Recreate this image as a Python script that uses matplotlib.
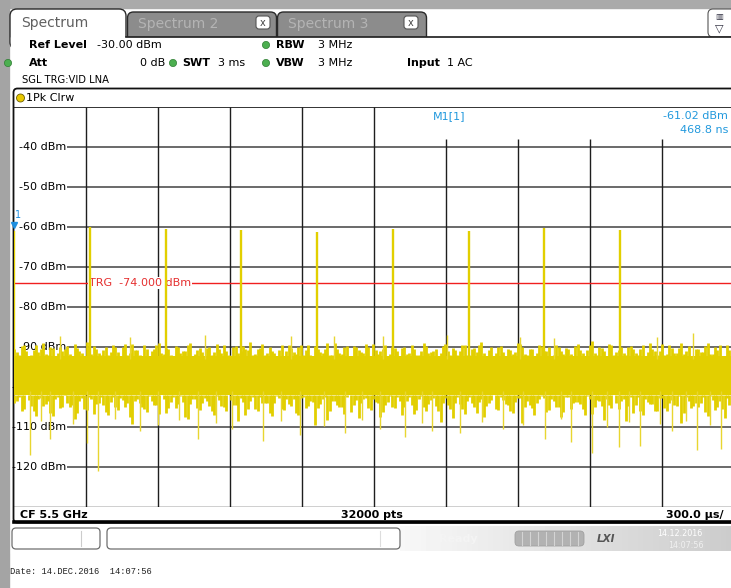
import numpy as np
import matplotlib.pyplot as plt
from matplotlib.patches import Rectangle, FancyBboxPatch, Circle

W, H = 731, 588

# zero span sweep: 10 div x 300 us, level -30 .. -130 dBm
t_div = 0.3
ref_level = -30.0
y_labels = [-40, -50, -60, -70, -80, -90, -100, -110, -120]
trg_level = -74.0
marker_t = 0.0004688
marker_db = -61.02

# pulses (ms, dBm)
peak_t = [0.0005, 0.317, 0.631, 0.946, 1.263, 1.578, 1.893, 2.209, 2.525]
peak_db = [-61.0, -60.0, -60.6, -60.8, -61.3, -60.6, -61.0, -60.3, -60.8]

# noise floor: solid core of the band and its upper / lower excursions
core_top = -92.3
core_bot = -102.0
noise_hi = [
    -90.6, -91.9, -89.4, -92.4, -90.8, -91.3, -89.1, -92.0, -90.2, -91.6,
    -90.9, -89.7, -92.5, -90.3, -91.4, -88.8, -91.8, -90.5, -92.1, -89.9,
    -91.2, -90.0, -92.7, -89.3, -91.5, -90.7, -91.9, -89.6, -92.2, -90.4,
    -89.0, -91.7, -90.6, -92.3, -90.1, -91.1, -89.5, -92.6, -90.8, -91.3,
    -90.3, -92.0, -89.2, -91.6, -90.9, -92.4, -89.8, -91.0, -90.5, -88.7,
    -91.8, -90.2, -92.1, -89.9, -91.4, -90.7, -92.5, -89.4, -91.2, -90.0,
    -91.9, -89.6, -92.3, -90.6, -91.5, -88.9, -92.0, -90.4, -91.7, -89.7,
    -92.2, -90.1, -91.3, -89.3, -92.6, -90.8, -91.1, -89.5, -91.8, -90.3,
    -92.4, -89.9, -91.6, -90.5, -92.0, -89.1, -91.4, -90.9, -92.7, -89.8,
    -91.0, -90.2, -92.1, -89.4, -91.9, -90.6, -91.2, -88.8, -92.3, -90.0,
    -91.5, -89.7, -92.5, -90.7, -91.3, -89.2, -91.8, -90.4, -92.2, -89.6,
    -91.1, -90.1, -92.0, -89.9, -91.7, -90.5, -92.4, -89.3, -91.4, -90.8,
    -88.6, -91.9, -90.3, -92.6, -89.5, -91.2, -90.0, -92.1, -89.8, -91.6,
    -90.6, -92.3, -89.0, -91.0, -90.9, -92.0, -89.4, -91.5, -90.2, -91.8,
    -89.7, -92.2, -90.4, -91.3, -88.9, -91.7, -90.7, -92.5, -89.6, -91.1,
]
noise_hi2 = [
    -91.2, -89.8, -90.9, -92.1, -89.5, -90.6, -91.7, -90.0, -92.3, -89.9,
    -90.4, -91.8, -89.3, -91.0, -92.2, -90.3, -89.7, -91.5, -90.8, -92.0,
    -89.6, -91.3, -90.1, -91.9, -89.2, -90.7, -92.4, -90.5, -91.1, -89.4,
    -91.6, -90.2, -92.0, -89.8, -91.4, -90.9, -89.1, -91.7, -90.3, -92.2,
    -89.9, -91.2, -90.6, -89.5, -92.1, -90.0, -91.5, -89.7, -90.8, -91.9,
    -90.4, -89.3, -91.6, -90.9, -92.3, -89.6, -91.0, -90.2, -91.8, -89.4,
    -90.7, -92.0, -89.8, -91.3, -90.5, -91.9, -89.0, -91.4, -90.1, -92.2,
    -89.7, -90.8, -91.5, -90.0, -89.2, -91.7, -90.6, -92.4, -89.9, -91.1,
    -90.3, -91.8, -89.5, -92.0, -90.9, -89.8, -91.2, -90.4, -91.6, -89.3,
    -92.1, -90.7, -91.0, -89.6, -91.9, -90.2, -89.4, -91.4, -90.8, -92.3,
    -89.9, -91.3, -90.5, -91.7, -89.1, -90.0, -92.0, -90.6, -91.5, -89.7,
    -90.9, -92.2, -89.5, -91.1, -90.3, -91.8, -89.8, -90.7, -92.4, -89.4,
    -91.6, -90.1, -91.0, -89.2, -92.1, -90.8, -91.4, -89.9, -90.4, -91.9,
    -89.6, -91.2, -90.6, -92.0, -89.3, -91.7, -90.2, -91.5, -89.0, -90.9,
    -92.3, -90.5, -91.3, -89.7, -91.8, -90.0, -89.5, -92.2, -90.7, -91.1,
]
noise_lo = [
    -103.4, -105.9, -102.1, -104.7, -107.3, -102.8, -104.2, -106.4, -103.0, -105.2,
    -101.8, -104.9, -108.1, -103.6, -105.5, -102.4, -106.8, -103.9, -104.4, -107.0,
    -102.6, -105.7, -103.2, -104.0, -109.2, -102.9, -105.1, -106.2, -103.5, -104.6,
    -101.9, -106.6, -103.8, -105.3, -102.2, -107.6, -104.3, -103.1, -105.8, -102.7,
    -104.8, -106.9, -103.3, -105.0, -102.0, -104.5, -108.4, -103.7, -105.4, -102.5,
    -106.1, -103.9, -104.1, -107.2, -102.3, -105.6, -103.0, -104.7, -106.5, -102.8,
    -105.2, -103.4, -109.5, -104.2, -102.6, -105.9, -103.6, -104.9, -106.7, -102.1,
    -104.4, -107.8, -103.1, -105.3, -102.9, -104.0, -106.3, -103.8, -105.1, -102.4,
    -107.1, -103.5, -104.6, -105.7, -102.2, -106.0, -103.2, -104.8, -108.7, -102.7,
    -105.5, -103.9, -104.3, -106.8, -102.5, -105.0, -103.7, -107.4, -104.1, -102.0,
    -105.8, -103.3, -104.5, -106.4, -102.8, -109.0, -103.6, -105.2, -104.0, -102.3,
    -106.2, -103.0, -104.9, -107.5, -102.6, -105.4, -103.8, -104.2, -106.9, -102.9,
    -105.0, -103.4, -108.2, -104.6, -102.1, -105.6, -103.1, -104.8, -106.6, -102.4,
    -107.0, -103.7, -104.3, -105.9, -102.7, -106.1, -103.2, -104.7, -108.9, -102.5,
    -105.3, -103.9, -104.1, -106.3, -102.2, -105.7, -103.5, -107.7, -104.4, -102.8,
]
noise_lo2 = [
    -104.1, -102.6, -105.4, -103.3, -106.0, -102.9, -104.8, -103.6, -107.2, -102.4,
    -105.1, -103.9, -104.5, -106.6, -102.7, -105.8, -103.1, -104.2, -102.5, -106.3,
    -103.7, -105.0, -102.8, -104.9, -107.5, -103.4, -104.0, -105.6, -102.3, -104.6,
    -106.8, -103.0, -105.3, -102.6, -104.3, -103.8, -108.0, -102.9, -105.2, -104.1,
    -103.5, -106.1, -102.2, -104.7, -105.9, -103.2, -104.4, -102.8, -107.0, -103.6,
    -105.5, -102.5, -104.0, -106.4, -103.9, -102.7, -105.7, -104.3, -103.1, -106.9,
    -102.4, -104.8, -103.7, -105.2, -102.9, -108.3, -103.4, -104.6, -105.0, -102.6,
    -106.2, -103.3, -104.1, -102.8, -105.8, -103.8, -107.4, -104.5, -102.3, -105.3,
    -103.6, -104.9, -102.5, -106.7, -103.0, -105.1, -104.2, -102.7, -105.9, -103.9,
    -104.4, -107.8, -102.6, -105.4, -103.5, -104.0, -106.5, -102.9, -104.7, -103.2,
    -105.6, -102.4, -104.3, -106.0, -103.8, -102.8, -105.0, -104.6, -107.1, -103.1,
    -102.7, -105.7, -103.4, -104.9, -106.3, -102.5, -104.1, -103.7, -105.5, -102.2,
    -106.8, -103.3, -104.8, -102.9, -105.2, -104.0, -103.6, -108.5, -102.6, -104.5,
    -105.9, -103.0, -104.2, -106.1, -102.8, -105.3, -103.9, -104.4, -102.3, -106.6,
    -103.5, -104.7, -105.1, -102.4, -107.3, -103.2, -104.9, -105.6, -102.7, -104.0,
]

# single deep dips and high spikes of the noise
dip_t = [0.065, 0.150, 0.303, 0.349, 0.524, 0.765, 0.907, 1.036, 1.191, 1.378,
         1.524, 1.628, 1.741, 1.857, 2.036, 2.211, 2.320, 2.408, 2.518, 2.607,
         2.740, 2.845, 2.946,
         0.112, 0.246, 0.420, 0.598, 0.688, 0.840, 1.110, 1.290, 1.450, 1.700,
         1.950, 2.120, 2.280, 2.470, 2.560, 2.690, 2.800, 2.900]
dip_db = [-117.0, -113.0, -114.0, -121.0, -111.0, -113.0, -110.5, -113.5, -112.0, -111.5,
          -110.5, -112.5, -111.0, -111.5, -110.5, -113.0, -113.8, -116.5, -115.0, -114.8,
          -111.0, -115.8, -115.5,
          -108.5, -109.2, -108.0, -109.5, -108.3, -109.0, -108.6, -109.8, -108.2, -109.1,
          -108.8, -109.4, -108.1, -110.0, -108.7, -109.3, -108.4, -109.6]
spur_t = [0.190, 0.482, 0.795, 1.153, 1.332, 1.536, 1.803, 2.107, 2.249, 2.678, 2.828]
spur_db = [-87.2, -87.6, -87.0, -87.3, -87.3, -87.3, -87.1, -87.5, -87.8, -87.4, -86.5]

yellow = '#e2cf00'

fig = plt.figure(figsize=(W / 100, H / 100), dpi=100)

# ---------- screen background ----------
bg = fig.add_axes([0, 0, 1, 1], zorder=0)
bg.set_xlim(0, W)
bg.set_ylim(H, 0)
bg.axis('off')

bg.add_patch(Rectangle((0, 0), W, 8, color='#aaaaaa'))
bg.add_patch(Rectangle((0, 0), 9, H, color='#a4a4a4'))

# tabs
bg.add_patch(FancyBboxPatch((127.5, 12), 149, 34, boxstyle='round,pad=0,rounding_size=6',
                            fc='#8c8c8c', ec='#2a2a2a', lw=1))
bg.add_patch(FancyBboxPatch((277.5, 12), 149, 34, boxstyle='round,pad=0,rounding_size=6',
                            fc='#8c8c8c', ec='#2a2a2a', lw=1))
bg.add_patch(FancyBboxPatch((10, 9), 116, 40, boxstyle='round,pad=0,rounding_size=7',
                            fc='white', ec='#2a2a2a', lw=1))
bg.text(21, 23, 'Spectrum', fontsize=10, color='#606060', va='center')
bg.text(138, 24, 'Spectrum 2', fontsize=10, color='#b4b4b4', va='center')
bg.text(288, 24, 'Spectrum 3', fontsize=10, color='#b4b4b4', va='center')
for xb in [256, 404]:
    bg.add_patch(FancyBboxPatch((xb, 16), 14, 13, boxstyle='round,pad=0,rounding_size=3',
                                fc='white', ec='#555555', lw=0.8))
    bg.text(xb + 7, 22.5, 'x', fontsize=7, color='#444444', ha='center', va='center')
bg.add_patch(FancyBboxPatch((708, 9), 30, 28, boxstyle='round,pad=0,rounding_size=5',
                            fc='white', ec='#555555', lw=0.8))
bg.text(719, 17, '▥', fontsize=6, color='#334', ha='center', va='center')
bg.text(719, 28, '▽', fontsize=8, color='#334', ha='center', va='center')

# info panel
bg.add_patch(Rectangle((10.5, 36.5), W, 516, color='white', zorder=2))
bg.plot([126, W], [36.5, 36.5], color='#1a1a1a', lw=1.2, zorder=3)

fs = 8
green = '#4caf50'
rows = [45, 63]
bg.text(29, rows[0], 'Ref Level', fontsize=fs, weight='bold', va='center', zorder=3)
bg.text(97, rows[0], '-30.00 dBm', fontsize=fs, va='center', zorder=3)
bg.text(29, rows[1], 'Att', fontsize=fs, weight='bold', va='center', zorder=3)
bg.text(165, rows[1], '0 dB', fontsize=fs, va='center', ha='right', zorder=3)
bg.text(182, rows[1], 'SWT', fontsize=fs, weight='bold', va='center', zorder=3)
bg.text(218, rows[1], '3 ms', fontsize=fs, va='center', zorder=3)
for r, lab in zip(rows, ['RBW', 'VBW']):
    bg.text(276, r, lab, fontsize=fs, weight='bold', va='center', zorder=3)
    bg.text(318, r, '3 MHz', fontsize=fs, va='center', zorder=3)
bg.text(407, rows[1], 'Input', fontsize=fs, weight='bold', va='center', zorder=3)
bg.text(447, rows[1], '1 AC', fontsize=fs, va='center', zorder=3)
for (cx, cy) in [(266, rows[0]), (266, rows[1]), (173, rows[1]), (8, rows[1])]:
    bg.add_patch(Circle((cx, cy), 3.6, fc=green, ec='#2e7d32', lw=0.5, zorder=4))
bg.text(22, 80, 'SGL TRG:VID LNA', fontsize=7.2, va='center', zorder=3)

# diagram frame
bg.add_patch(FancyBboxPatch((13.5, 88.5), 740, 434, boxstyle='round,pad=0,rounding_size=4',
                            fc='white', ec='#111111', lw=1.3, zorder=3))
bg.add_patch(Circle((20.5, 98), 4, fc='#e8c800', ec='#6b5d00', lw=0.6, zorder=4))
bg.text(26, 98, '1Pk Clrw', fontsize=fs, va='center', zorder=4)
bg.plot([13.5, W], [522, 522], color='#000000', lw=2.6, zorder=5)
bg.text(20, 515, 'CF 5.5 GHz', fontsize=fs, weight='bold', va='center', zorder=4)
bg.text(372, 515, '32000 pts', fontsize=fs, weight='bold', va='center', ha='center', zorder=4)
bg.text(724, 515, '300.0 µs/', fontsize=fs, weight='bold', va='center', ha='right', zorder=4)

# status bar
grad = np.linspace(0.97, 0.80, 64)[None, :] * np.ones((8, 1))
bg.imshow(grad, cmap='gray', vmin=0, vmax=1, extent=(400, W, 551, 526), aspect='auto', zorder=2.5)
bg.add_patch(FancyBboxPatch((12, 528), 88, 21, boxstyle='round,pad=0,rounding_size=4',
                            fc='white', ec='#6e6e6e', lw=0.9, zorder=3))
bg.add_patch(FancyBboxPatch((107, 528), 293, 21, boxstyle='round,pad=0,rounding_size=4',
                            fc='white', ec='#6e6e6e', lw=0.9, zorder=3))
bg.plot([81, 81], [531, 546], color='#cccccc', lw=0.8, zorder=4)
bg.plot([380, 380], [531, 546], color='#dddddd', lw=0.8, zorder=4)
bg.text(458, 539, 'Ready', fontsize=8, weight='bold', color='#f4f4f4', va='center', ha='center', zorder=4)
bg.add_patch(FancyBboxPatch((515, 531), 69, 15, boxstyle='round,pad=0,rounding_size=4',
                            fc='#b2b2b2', ec='#a0a0a0', lw=0.6, zorder=4))
for xs in np.arange(522, 584, 8):
    bg.plot([xs, xs], [532, 545], color='#d4d4d4', lw=0.8, zorder=5)
bg.text(606, 538.5, 'LXI', fontsize=7.5, weight='bold', style='italic', color='#555555',
        va='center', ha='center', zorder=4)
bg.text(680, 534, '14.12.2016', fontsize=5.8, color='white', va='center', ha='center', zorder=4)
bg.text(686, 545, '14:07:56', fontsize=5.8, color='#f0f0f0', va='center', ha='center', zorder=4)

bg.text(10, 572, 'Date: 14.DEC.2016  14:07:56', fontsize=6.3, family='Liberation Mono',
        color='#222222', va='center', zorder=4)

# ---------- trace diagram ----------
x0, y_top, y_bot = 14.3, 107, 507
ax = fig.add_axes([x0 / W, (H - y_bot) / H, 720 / W, (y_bot - y_top) / H], zorder=2)
ax.set_facecolor('none')
ax.set_xlim(0, 10 * t_div)
ax.set_ylim(ref_level - 100, ref_level)
ax.axis('off')

t_lab = 0.22
ax.hlines(y_labels, t_lab, 10 * t_div, color='#5e5e5e', lw=1.3, zorder=1)
for k in range(1, 10):
    top = ref_level if k <= 5 else ref_level - 8
    ax.vlines(k * t_div, ref_level - 100, top, color='#1e1e1e', lw=1.0, zorder=1)
ax.axhline(ref_level, color='#111111', lw=1.2, zorder=1)
ax.axhline(ref_level - 100, color='#111111', lw=1.0, zorder=1)
for v in y_labels:
    ax.text(t_lab - 0.005, v, f'-{abs(v)} dBm', fontsize=fs, ha='right', va='center', zorder=1)

# trace: solid core plus vertical excursions
n = len(noise_hi)
t_tr = np.linspace(0, 10 * t_div, 2 * n)
ax.fill_between([0, 10 * t_div], core_top, core_bot, color=yellow, lw=0, zorder=3)
ax.vlines(t_tr[0::2], core_top, noise_hi, color=yellow, lw=2.0, zorder=3)
ax.vlines(t_tr[1::2], core_top, noise_hi2, color=yellow, lw=2.0, zorder=3)
ax.vlines(t_tr[1::2], core_bot, noise_lo, color=yellow, lw=2.0, zorder=3)
ax.vlines(t_tr[0::2], core_bot, noise_lo2, color=yellow, lw=2.0, zorder=3)
ax.vlines(dip_t, -101, dip_db, color='#e8d630', lw=1.0, zorder=3)
ax.vlines(spur_t, -93, spur_db, color='#e8d630', lw=1.0, zorder=3)
ax.vlines(peak_t, -95, peak_db, color=yellow, lw=1.7, zorder=3)

# trigger level
ax.axhline(trg_level, color='#f02020', lw=1.0, zorder=2)
ax.text(0.312, trg_level, 'TRG  -74.000 dBm', fontsize=fs, color='#e53030', va='center', zorder=2.5,
        bbox=dict(fc='white', ec='none', pad=0.6))

# marker 1
ax.plot([marker_t], [marker_db + 1.6], marker='v', ms=5, color='#1f8fe0', clip_on=False, zorder=4)
ax.text(marker_t + 0.004, marker_db + 4.0, '1', fontsize=7, color='#1f8fe0', ha='left', va='center', zorder=4)
ax.text(1.745, -32.3, 'M1[1]', fontsize=fs, color='#2299dd', va='center', zorder=4)
ax.text(2.975, -32.3, '-61.02 dBm', fontsize=fs, color='#2299dd', ha='right', va='center', zorder=4)
ax.text(2.975, -35.8, '468.8 ns', fontsize=fs, color='#2299dd', ha='right', va='center', zorder=4)

fig.savefig('out.png', dpi=100)
